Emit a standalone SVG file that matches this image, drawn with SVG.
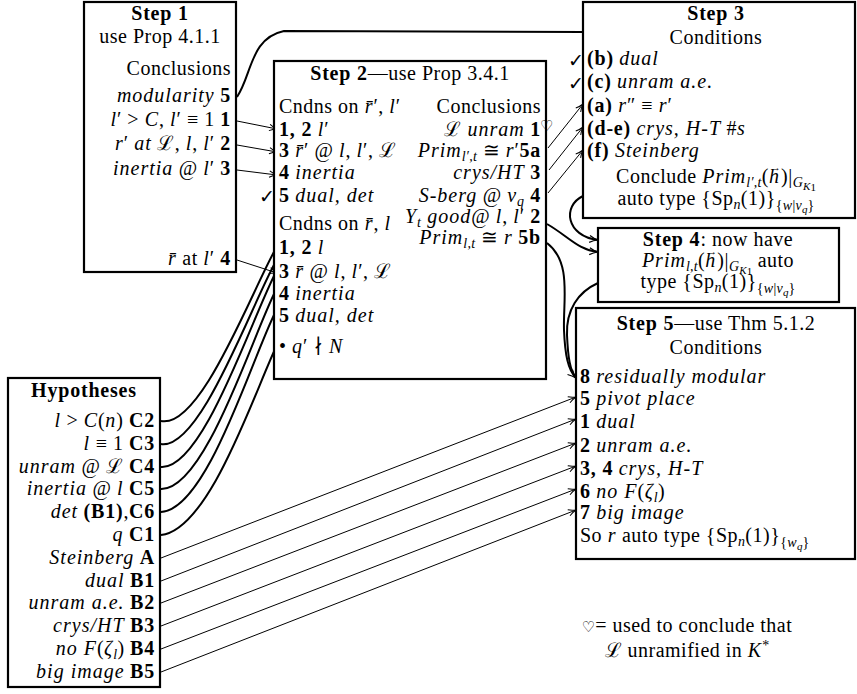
<svg xmlns="http://www.w3.org/2000/svg" width="857" height="694" viewBox="0 0 857 694">
<style>
text{font-family:"Liberation Serif","DejaVu Serif",serif;font-size:20px;fill:#000;letter-spacing:0.5px}
.b{font-weight:bold;letter-spacing:0.8px}
.i{font-style:italic;letter-spacing:1px}
.s{font-size:14px;letter-spacing:0.3px}
.xs{font-size:11px;letter-spacing:0}
.ck{font-family:"DejaVu Sans",sans-serif;font-size:19px;letter-spacing:0}
.hs{font-family:"DejaVu Sans",sans-serif;font-size:15px;letter-spacing:0}
rect{fill:#fff;stroke:#000;stroke-width:2.2}
.thick{fill:none;stroke:#000;stroke-width:2}
.thin{fill:none;stroke:#000;stroke-width:1}
</style>
<defs>
<marker id="ar" viewBox="0 0 10 10" refX="9.5" refY="5" markerWidth="9" markerHeight="9" orient="auto" markerUnits="userSpaceOnUse">
<path d="M1,1.5 Q5,4 9.5,5 Q5,6 1,8.5" fill="none" stroke="#000" stroke-width="1.1"/>
</marker>
<marker id="ark" viewBox="0 0 10 10" refX="9.5" refY="5" markerWidth="10" markerHeight="10" orient="auto" markerUnits="userSpaceOnUse">
<path d="M1,1.5 Q5,4 9.5,5 Q5,6 1,8.5" fill="none" stroke="#000" stroke-width="1.2"/>
</marker>
</defs>
<rect x="0" y="0" width="857" height="694" style="stroke:none;fill:#fff"/>

<g id="connectors">
<path class="thick" d="M237,97 C252,75 250,38 284,31 L583,32"/>
<path class="thick" d="M161,421 C200,429 250,295 275,250"/>
<path class="thick" d="M161,444 C200,450 250,308 275,263"/>
<path class="thick" d="M161,467 C203,470 252,317 276,272"/>
<path class="thick" d="M161,489 C205,490 252,337 275,292"/>
<path class="thick" d="M161,512 C207,510 252,358 275,313"/>
<path class="thick" d="M161,535 C210,530 255,390 277,345"/>
<path class="thick" d="M583,196 C562,206 566,236 598,240" marker-end="url(#ark)"/>
<path class="thick" d="M547,224 C568,236 578,250 598,252" marker-end="url(#ark)"/>
<path class="thick" d="M547,243 C572,262 563,300 564,330 C565,355 568,370 576,378" marker-end="url(#ark)"/>
<path class="thick" d="M598,283 C578,292 566,310 567,335 C568,358 570,370 576,378"/>
<path class="thin" d="M237,121 L277,129" marker-end="url(#ar)"/>
<path class="thin" d="M237,145 L277,152" marker-end="url(#ar)"/>
<path class="thin" d="M237,170 L277,175" marker-end="url(#ar)"/>
<path class="thin" d="M237,260 L277,273" marker-end="url(#ar)"/>
<path class="thin" d="M548,148 L583,104" marker-end="url(#ar)"/>
<path class="thin" d="M549,170 L583,127" marker-end="url(#ar)"/>
<path class="thin" d="M548,193 L583,150" marker-end="url(#ar)"/>
<path class="thin" d="M161,558 L576,397" marker-end="url(#ar)"/>
<path class="thin" d="M161,581 L576,419" marker-end="url(#ar)"/>
<path class="thin" d="M161,603 L576,443" marker-end="url(#ar)"/>
<path class="thin" d="M161,626 L576,466" marker-end="url(#ar)"/>
<path class="thin" d="M161,649 L576,489" marker-end="url(#ar)"/>
<path class="thin" d="M161,672 L576,510" marker-end="url(#ar)"/>
</g>

<g id="step1">
<rect x="84" y="2" width="152" height="270"/>
<text x="160" y="20" text-anchor="middle" class="b">Step 1</text>
<text x="160" y="43" text-anchor="middle">use Prop 4.1.1</text>
<text x="231" y="75" text-anchor="end">Conclusions</text>
<text x="231" y="102" text-anchor="end"><tspan class="i">modularity</tspan> <tspan class="b">5</tspan></text>
<text x="231" y="126" text-anchor="end"><tspan class="i">l</tspan>′ &gt; <tspan class="i">C</tspan>, <tspan class="i">l</tspan>′ ≡ 1 <tspan class="b">1</tspan></text>
<text x="231" y="150" text-anchor="end"><tspan class="i">r</tspan>′ <tspan class="i">at</tspan> ℒ, <tspan class="i">l</tspan>, <tspan class="i">l</tspan>′ <tspan class="b">2</tspan></text>
<text x="231" y="175" text-anchor="end"><tspan class="i">inertia</tspan> @ <tspan class="i">l</tspan>′ <tspan class="b">3</tspan></text>
<text x="231" y="265" text-anchor="end"><tspan class="i">r̄</tspan> at <tspan class="i">l</tspan>′ <tspan class="b">4</tspan></text>
</g>

<g id="step2">
<rect x="274" y="61" width="272" height="318"/>
<text x="410" y="80" text-anchor="middle"><tspan class="b">Step 2</tspan>—use Prop 3.4.1</text>
<text x="279" y="113">Cndns on <tspan class="i">r̄</tspan>′, <tspan class="i">l</tspan>′</text>
<text x="541" y="113" text-anchor="end">Conclusions</text>
<text x="279" y="136"><tspan class="b">1, 2</tspan> <tspan class="i">l</tspan>′</text>
<text x="541" y="136" text-anchor="end">ℒ <tspan class="i">unram</tspan> <tspan class="b">1</tspan></text>
<text x="540" y="131" class="hs">♡</text>
<text x="279" y="157"><tspan class="b">3</tspan> <tspan class="i">r̄</tspan>′ @ <tspan class="i">l</tspan>, <tspan class="i">l</tspan>′, ℒ</text>
<text x="541" y="157" text-anchor="end"><tspan class="i">Prim</tspan><tspan class="s i" dy="4">l′,t</tspan><tspan dy="-4"> ≅ </tspan><tspan class="i">r</tspan>′<tspan class="b">5a</tspan></text>
<text x="279" y="179"><tspan class="b">4</tspan> <tspan class="i">inertia</tspan></text>
<text x="541" y="179" text-anchor="end"><tspan class="i">crys/HT</tspan> <tspan class="b">3</tspan></text>
<text x="279" y="202"><tspan class="b">5</tspan> <tspan class="i">dual, det</tspan></text>
<text x="541" y="202" text-anchor="end"><tspan class="i">S-berg</tspan> @ <tspan class="i">v</tspan><tspan class="s i" dy="4">q</tspan><tspan class="b" dy="-4"> 4</tspan></text>
<text x="259" y="203" class="ck">✓</text>
<text x="279" y="230">Cndns on <tspan class="i">r̄</tspan>, <tspan class="i">l</tspan></text>
<text x="541" y="223" text-anchor="end"><tspan class="i">Y</tspan><tspan class="s i" dy="4">t</tspan><tspan class="i" dy="-4"> good</tspan>@ <tspan class="i">l</tspan>, <tspan class="i">l</tspan>′ <tspan class="b">2</tspan></text>
<text x="541" y="244" text-anchor="end"><tspan class="i">Prim</tspan><tspan class="s i" dy="4">l,t</tspan><tspan dy="-4"> ≅ </tspan><tspan class="i">r</tspan> <tspan class="b">5b</tspan></text>
<text x="279" y="254"><tspan class="b">1, 2</tspan> <tspan class="i">l</tspan></text>
<text x="279" y="278"><tspan class="b">3</tspan> <tspan class="i">r̄</tspan> @ <tspan class="i">l</tspan>, <tspan class="i">l</tspan>′, ℒ</text>
<text x="279" y="300"><tspan class="b">4</tspan> <tspan class="i">inertia</tspan></text>
<text x="279" y="322"><tspan class="b">5</tspan> <tspan class="i">dual, det</tspan></text>
<text x="279" y="353">• <tspan class="i">q</tspan>′ ∤ <tspan class="i">N</tspan></text>
</g>

<g id="step3">
<rect x="583" y="2" width="272" height="216"/>
<text x="716" y="20" text-anchor="middle" class="b">Step 3</text>
<text x="716" y="44" text-anchor="middle">Conditions</text>
<text x="568" y="67" class="ck">✓</text>
<text x="568" y="90" class="ck">✓</text>
<text x="587" y="65"><tspan class="b">(b)</tspan> <tspan class="i">dual</tspan></text>
<text x="587" y="88"><tspan class="b">(c)</tspan> <tspan class="i">unram a.e.</tspan></text>
<text x="587" y="112"><tspan class="b">(a)</tspan> <tspan class="i">r</tspan>″ ≡ <tspan class="i">r</tspan>′</text>
<text x="587" y="135"><tspan class="b">(d-e)</tspan> <tspan class="i">crys, H-T</tspan> #<tspan class="i">s</tspan></text>
<text x="587" y="157"><tspan class="b">(f)</tspan> <tspan class="i">Steinberg</tspan></text>
<text x="716" y="183" text-anchor="middle">Conclude <tspan class="i">Prim</tspan><tspan class="s i" dy="4">l′,t</tspan><tspan dy="-4">(</tspan><tspan class="i">h</tspan><tspan class="xs" dx="-10" dy="-12">→</tspan><tspan dy="12">)|</tspan><tspan class="s i" dy="4">G</tspan><tspan class="xs i" dy="3">K</tspan><tspan class="xs" dy="1">1</tspan></text>
<text x="716" y="205" text-anchor="middle">auto type {Sp<tspan class="s i" dy="4">n</tspan><tspan dy="-4">(1)}</tspan><tspan class="s" dy="5">{</tspan><tspan class="s i">w</tspan><tspan class="s">|</tspan><tspan class="s i">v</tspan><tspan class="xs i" dy="3">q</tspan><tspan class="s" dy="-3">}</tspan></text>
</g>

<g id="step4">
<rect x="598" y="228" width="241" height="74"/>
<text x="718" y="246" text-anchor="middle"><tspan class="b">Step 4</tspan>: now have</text>
<text x="718" y="267" text-anchor="middle"><tspan class="i">Prim</tspan><tspan class="s i" dy="4">l,t</tspan><tspan dy="-4">(</tspan><tspan class="i">h</tspan><tspan class="xs" dx="-10" dy="-12">→</tspan><tspan dy="12">)|</tspan><tspan class="s i" dy="4">G</tspan><tspan class="xs i" dy="3">K</tspan><tspan class="xs" dy="1">1</tspan><tspan dy="-8"> auto</tspan></text>
<text x="718" y="288" text-anchor="middle">type {Sp<tspan class="s i" dy="4">n</tspan><tspan dy="-4">(1)}</tspan><tspan class="s" dy="5">{</tspan><tspan class="s i">w</tspan><tspan class="s">|</tspan><tspan class="s i">v</tspan><tspan class="xs i" dy="3">q</tspan><tspan class="s" dy="-3">}</tspan></text>
</g>

<g id="step5">
<rect x="576" y="308" width="279" height="251"/>
<text x="716" y="330" text-anchor="middle"><tspan class="b">Step 5</tspan>—use Thm 5.1.2</text>
<text x="716" y="354" text-anchor="middle">Conditions</text>
<text x="580" y="383"><tspan class="b">8</tspan> <tspan class="i">residually modular</tspan></text>
<text x="580" y="405"><tspan class="b">5</tspan> <tspan class="i">pivot place</tspan></text>
<text x="580" y="428"><tspan class="b">1</tspan> <tspan class="i">dual</tspan></text>
<text x="580" y="452"><tspan class="b">2</tspan> <tspan class="i">unram a.e.</tspan></text>
<text x="580" y="475"><tspan class="b">3, 4</tspan> <tspan class="i">crys, H-T</tspan></text>
<text x="580" y="498"><tspan class="b">6</tspan> <tspan class="i">no F</tspan>(<tspan class="i">ζ</tspan><tspan class="s i" dy="4">l</tspan><tspan dy="-4">)</tspan></text>
<text x="580" y="519"><tspan class="b">7</tspan> <tspan class="i">big image</tspan></text>
<text x="580" y="542">So <tspan class="i">r</tspan> auto type {Sp<tspan class="s i" dy="4">n</tspan><tspan dy="-4">(1)}</tspan><tspan class="s" dy="5">{</tspan><tspan class="s i">w</tspan><tspan class="xs i" dy="3">q</tspan><tspan class="s" dy="-3">}</tspan></text>
</g>

<g id="hypotheses">
<rect x="8" y="378" width="152" height="309"/>
<text x="84" y="397" text-anchor="middle" class="b">Hypotheses</text>
<text x="155" y="427" text-anchor="end"><tspan class="i">l</tspan> &gt; <tspan class="i">C</tspan>(<tspan class="i">n</tspan>) <tspan class="b">C2</tspan></text>
<text x="155" y="450" text-anchor="end"><tspan class="i">l</tspan> ≡ 1 <tspan class="b">C3</tspan></text>
<text x="155" y="473" text-anchor="end"><tspan class="i">unram</tspan> @ ℒ <tspan class="b">C4</tspan></text>
<text x="155" y="495" text-anchor="end"><tspan class="i">inertia</tspan> @ <tspan class="i">l</tspan> <tspan class="b">C5</tspan></text>
<text x="155" y="518" text-anchor="end"><tspan class="i">det</tspan> <tspan class="b">(B1)</tspan>,<tspan class="b">C6</tspan></text>
<text x="155" y="541" text-anchor="end"><tspan class="i">q</tspan> <tspan class="b">C1</tspan></text>
<text x="155" y="564" text-anchor="end"><tspan class="i">Steinberg</tspan> <tspan class="b">A</tspan></text>
<text x="155" y="587" text-anchor="end"><tspan class="i">dual</tspan> <tspan class="b">B1</tspan></text>
<text x="155" y="609" text-anchor="end"><tspan class="i">unram a.e.</tspan> <tspan class="b">B2</tspan></text>
<text x="155" y="632" text-anchor="end"><tspan class="i">crys/HT</tspan> <tspan class="b">B3</tspan></text>
<text x="155" y="655" text-anchor="end"><tspan class="i">no F</tspan>(<tspan class="i">ζ</tspan><tspan class="s i" dy="4">l</tspan><tspan dy="-4">) </tspan><tspan class="b">B4</tspan></text>
<text x="155" y="678" text-anchor="end"><tspan class="i">big image</tspan> <tspan class="b">B5</tspan></text>
</g>

<g id="note">
<text x="687" y="632" text-anchor="middle"><tspan class="hs">♡</tspan>= used to conclude that</text>
<text x="687" y="657" text-anchor="middle">ℒ unramified in <tspan class="i">K</tspan><tspan class="s" dy="-7">*</tspan></text>
</g>
</svg>
